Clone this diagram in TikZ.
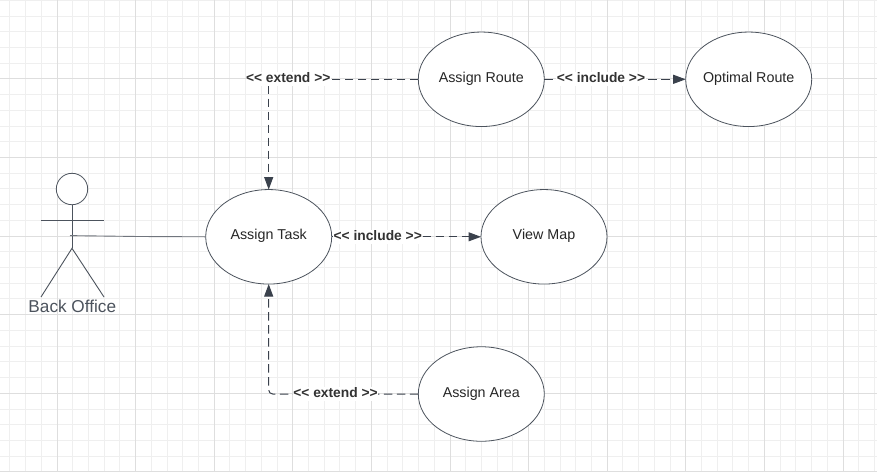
\documentclass[tikz,border=0pt]{standalone}
\usepackage{fontspec}
\setmainfont{Liberation Sans}
\usetikzlibrary{arrows.meta,shapes.geometric}
\definecolor{lineGray}{HTML}{4C535D}
\definecolor{tipGray}{HTML}{3A414C}
\definecolor{gridMinor}{HTML}{EFEFEF}
\definecolor{gridMajor}{HTML}{DEDEDE}
\tikzset{
  use case/.style={
    ellipse,
    fill=white,
    draw=lineGray,
    line width=0.8pt,
    minimum width=126pt,
    minimum height=94.5pt,
    inner xsep=-8pt,
    inner ysep=0pt,
    outer sep=0pt,
    text=black!85,
    font=\fontsize{14.3}{16}\selectfont,
    text height=9.4pt,
    text depth=3.4pt,
  },
  dep label/.style={
    fill=white,
    inner sep=0.5pt,
    text=black!80,
    font=\fontsize{13.8}{16}\selectfont\bfseries,
    text height=10pt,
    text depth=3.5pt,
  },
  dep/.style={
    draw=tipGray,
    line width=1pt,
    dash pattern=on 8.5pt off 4.5pt,
    -{Triangle[length=12.5pt,width=9pt,fill=tipGray]},
  },
  actor line/.style={
    draw=lineGray,
    line width=0.9pt,
  },
}

\begin{document}
\begin{tikzpicture}[x=1pt,y=-1pt]
    \useasboundingbox (0,0) rectangle (877,472);
    \fill[white] (0,0) rectangle (877,472);

    % grid
    \foreach \i in {-3,...,52} {
        \draw[gridMinor, line width=1pt] ({57+15.72*\i},0) -- ({57+15.72*\i},472);
    }
    \foreach \i in {0,...,30} {
        \draw[gridMinor, line width=1pt] (0,{0.3+15.72*\i}) -- (877,{0.3+15.72*\i});
    }
    \foreach \i in {0,...,10} {
        \draw[gridMajor, line width=1pt] ({57+78.6*\i},0) -- ({57+78.6*\i},472);
    }
    \foreach \i in {1,...,6} {
        \draw[gridMajor, line width=1pt] (0,{0.3+78.6*\i}) -- (877,{0.3+78.6*\i});
    }

    % use cases
    \node [use case] (task) at (268.7,236.8) {Assign Task};
    \node [use case] (route) at (481.3,79.3) {Assign Route};
    \node [use case] (optimal) at (748.7,79.3) {Optimal Route};
    \node [use case] (map) at (544,236.8) {View Map};
    \node [use case] (area) at (481.3,394) {Assign Area};

    % actor
    \node [circle, draw=lineGray, fill=white, line width=0.8pt, minimum size=31.4pt, inner sep=0pt, outer sep=0pt] (head) at (72,189) {};
    \coordinate (hip) at (72,248.3);
    \coordinate (armL) at (41,220.3);
    \coordinate (armR) at (104,220.3);
    \coordinate (footL) at (41,297);
    \coordinate (footR) at (104,297);
    \coordinate (hand) at (70,235.6);
    \coordinate (bend) at (139,236.5);
    \draw [actor line] (head.south) -- (hip);
    \draw [actor line] (armL) -- (armR);
    \draw [actor line] (footL) -- (hip) -- (footR);
    \node [text=lineGray, inner sep=0pt, font=\fontsize{17.2}{20}\selectfont] (office) at (72.3,306.5) {Back Office};

    % connectors
    \draw [actor line, draw=lineGray!80] (hand) -- (bend) -- (task.west);
    \draw [dep] (route.west) -- (route.west -| task.north) -- (task.north);
    \draw [dep] (route.east) -- (optimal.west);
    \draw [dep] (task.east) -- (map.west);
    \draw [dep, rounded corners=4pt] (area.west) -- (area.west -| task.south) -- (task.south);

    % labels
    \node [dep label] (extendTop) at (288.2,79) {<{}< extend >{}>};
    \node [dep label] (includeTop) at (601,79) {<{}< include >{}>};
    \node [dep label] (includeMid) at (377.7,237) {<{}< include >{}>};
    \node [dep label] (extendLow) at (335.5,394) {<{}< extend >{}>};
\end{tikzpicture}
\end{document}
